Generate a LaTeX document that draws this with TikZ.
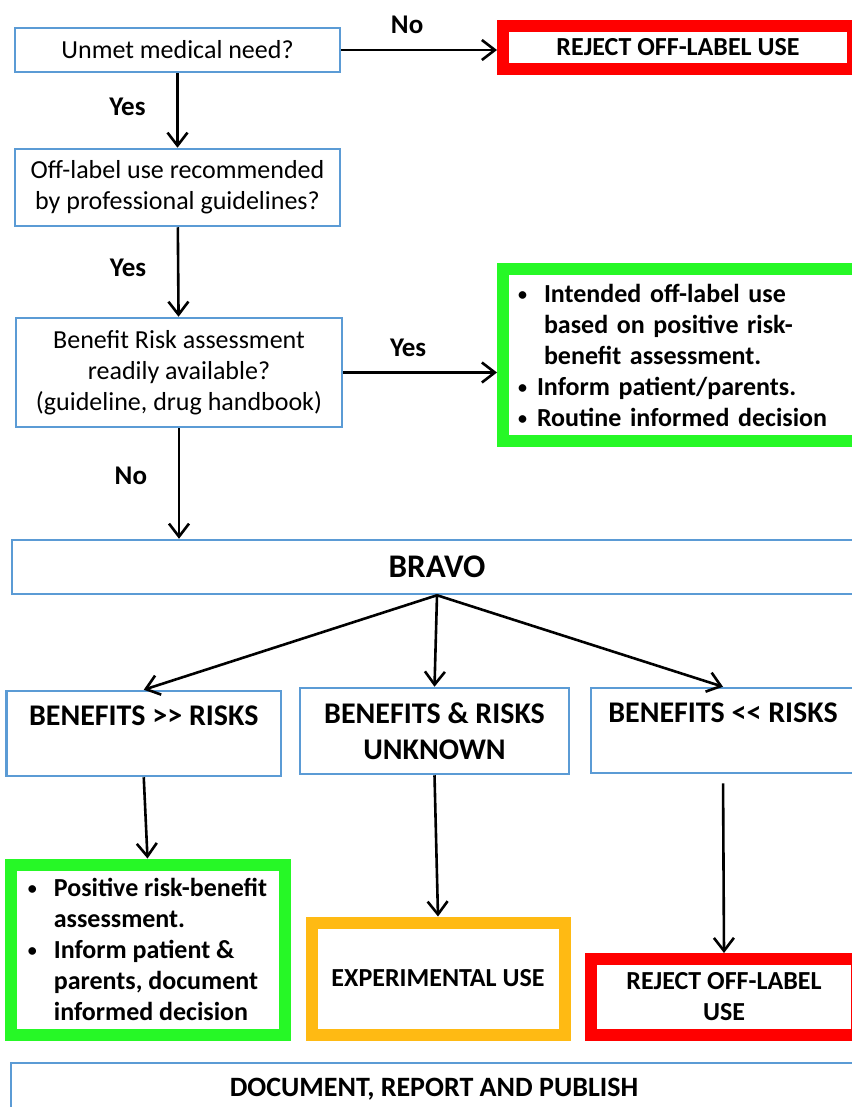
\documentclass[tikz,border=0pt]{standalone}
\usepackage{fontspec}
\setmainfont{Carlito}
\usepackage{tikz}
\usetikzlibrary{arrows.meta}
\definecolor{boxblue}{RGB}{91,155,213}
\definecolor{okgreen}{RGB}{38,248,38}
\definecolor{rejectred}{RGB}{255,0,0}
\definecolor{exporange}{RGB}{255,186,19}
\tikzset{
	% Two box styles for the flow chart: blue question boxes and thick outcome boxes
	question node/.style={rectangle,draw=boxblue,line width=1.25pt,inner sep=2pt,align=center,font=\fontsize{13}{15.5}\selectfont},
	outcome node/.style={rectangle,line width=6pt,inner sep=2pt,align=center,font=\bfseries\fontsize{13}{15.5}\selectfont},
	answer/.style={font=\bfseries\fontsize{13.5}{16}\selectfont},
	flow/.style={line width=1.3pt,-{Straight Barb[length=6.5pt,width=10pt]}}
}
% macro for a bullet with its hanging indent
\newcommand{\itm}[2]{\makebox[#1][l]{\raisebox{0.9pt}{\fontsize{9}{9}\selectfont\textbullet}}#2}

\begin{document}
\begin{tikzpicture}[x=0.5pt,y=-0.5pt]
	\useasboundingbox (0,0) rectangle (851,1107);
	% questions on the left
	\node(q1)[question node,minimum width=162.5pt,minimum height=22pt] at (177.5,50) {Unmet medical need?};
	\node(q2)[question node,minimum width=162.5pt,minimum height=38.5pt] at (177.5,187.5) {Off-label use recommended\\by professional guidelines?};
	\node(q3)[question node,minimum width=163pt,minimum height=54.5pt] at (179,372.5) {Benefit Risk assessment\\readily available?\\(guideline, drug handbook)};
	% early outcomes on the right
	\node(red1)[outcome node,draw=rejectred,minimum width=175pt,minimum height=21.5pt] at (678,47.5) {REJECT OFF-LABEL USE};
	\node(g1)[outcome node,draw=okgreen,align=left,text width=173.5pt,inner xsep=7.5pt,minimum height=86pt] at (691.5,355)
		{\itm{13pt}{Intended off-label use}\\\hspace*{13pt}based on positive risk-\\\hspace*{13pt}benefit assessment.\\\itm{9.5pt}{Inform patient/parents.}\\\itm{9.5pt}{Routine informed decision}};
	% BRAVO and its three results
	\node(bravo)[question node,minimum width=425pt,minimum height=27pt,font=\bfseries\fontsize{16.5}{20}\selectfont] at (437,567) {BRAVO};
	\node(bl)[question node,minimum width=137.25pt,minimum height=42.5pt,font=\bfseries\fontsize{15}{18}\selectfont] at (143.75,733.5) {BENEFITS >\kern0pt> RISKS\\~};
	\node(bm)[question node,minimum width=134.5pt,minimum height=43pt,font=\bfseries\fontsize{15}{18}\selectfont] at (434.5,731) {BENEFITS \& RISKS\\UNKNOWN};
	\node(br)[question node,minimum width=132pt,minimum height=42.5pt,font=\bfseries\fontsize{15}{18}\selectfont] at (723,730.5) {BENEFITS <\kern0pt< RISKS\\~};
	% final outcomes
	\node(g2)[outcome node,draw=okgreen,align=left,minimum width=137pt,minimum height=85pt] at (147.5,949.5)
		{\itm{13pt}{Positive risk-benefit}\\\hspace*{13pt}assessment.\\\itm{13pt}{Inform patient \&}\\\hspace*{13pt}parents, document\\\hspace*{13pt}informed decision};
	\node(exp)[outcome node,draw=exporange,minimum width=126.5pt,minimum height=56pt] at (438,978.5) {EXPERIMENTAL USE};
	\node(red2)[outcome node,draw=rejectred,minimum width=133pt,minimum height=37.75pt] at (724,996.75) {REJECT OFF-LABEL\\USE};
	\node(doc)[question node,minimum width=423pt,minimum height=26pt,font=\bfseries\fontsize{14}{17}\selectfont] at (434,1089) {DOCUMENT, REPORT AND PUBLISH};
	
	\draw[flow] (q1.east) -- (q1.east -| red1.west) node[answer,midway,above=4pt,xshift=-6pt]{No};
	\draw[flow] (q1) -- (q2) node[answer,midway,left=12pt,yshift=2pt]{Yes};
	\draw[flow] (q2) -- (q3) node[answer,midway,left=12pt,yshift=2pt]{Yes};
	\draw[flow] (q3.east) -- (q3.east -| g1.west) node[answer,midway,above=4pt,xshift=-6pt]{Yes};
	\draw[flow] (q3.south) -- (q3.south |- bravo.north) node[answer,midway,left=12pt,yshift=4pt]{No};
	\draw[flow] (bravo.south) -- (bl.north);
	\draw[flow] (bravo.south) -- (bm.north);
	\draw[flow] (bravo.south) -- (br.north);
	\draw[flow] (bl.south) -- (g2.north);
	\draw[flow] (bm.south) -- (exp.north);
	\draw[flow,shorten <=4.5pt] (br.south) -- (red2.north);
\end{tikzpicture}
\end{document}
